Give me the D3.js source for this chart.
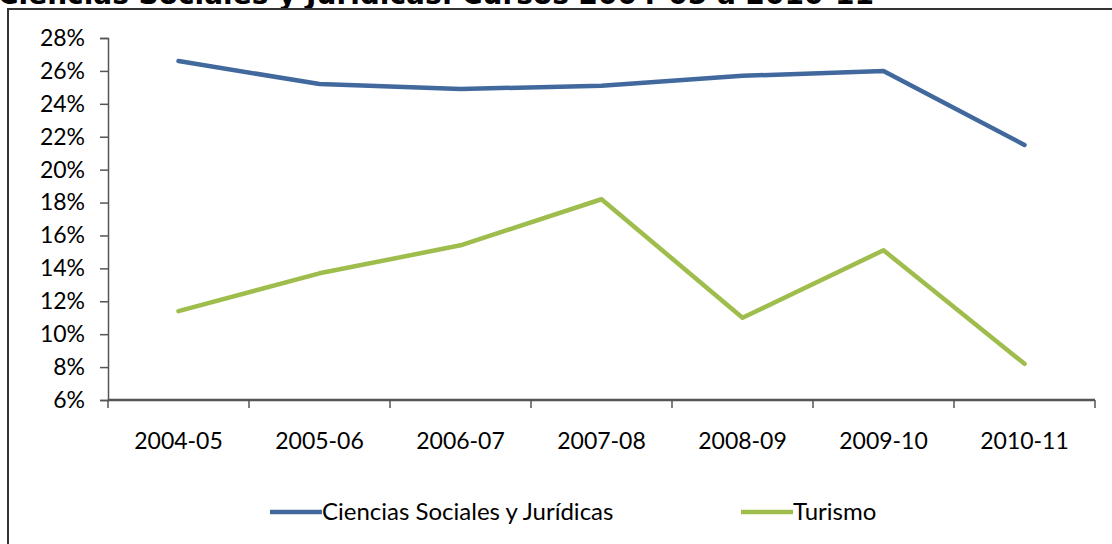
<!DOCTYPE html>
<html>
<head>
<meta charset="utf-8">
<script src="https://cdn.jsdelivr.net/npm/d3@7"></script>
<style>
  body { margin: 0; background: #fff; }
  svg { display: block; }
  .tick text { font-family: Lato, "Open Sans", sans-serif; font-size: 23px; fill: #000; }
  .legendText { font-family: Lato, "Open Sans", sans-serif; font-size: 24px; fill: #000; }
</style>
</head>
<body>
<div class="svg_area"></div>
<script>
// Chart data
var cursos = ["2004-05", "2005-06", "2006-07", "2007-08", "2008-09", "2009-10", "2010-11"];
var ciencias = [26.6, 25.2, 24.9, 25.1, 25.7, 26.0, 21.5];
var turismo = [11.4, 13.7, 15.4, 18.2, 11.0, 15.1, 8.2];
var yTicks = [6, 8, 10, 12, 14, 16, 18, 20, 22, 24, 26, 28];

var svgWidth = 1112;
var svgHeight = 544;

var margin = { top: 38, right: 17, bottom: 144, left: 108 };
var chartWidth = svgWidth - margin.left - margin.right;
var chartHeight = svgHeight - margin.top - margin.bottom;

var svg = d3.select(".svg_area")
  .append("svg")
  .attr("width", svgWidth)
  .attr("height", svgHeight);

// cut-off title at the very top
svg.append("text")
  .attr("x", -2)
  .attr("y", 4)
  .attr("font-family", "DejaVu Sans, sans-serif")
  .attr("font-weight", "bold")
  .attr("font-size", 28)
  .attr("fill", "#000")
  .text("Ciencias Sociales y Jurídicas. Cursos 2004-05 a 2010-11");

// chart frame
svg.append("rect")
  .attr("x", 8)
  .attr("y", 9)
  .attr("width", 1120)
  .attr("height", 560)
  .attr("fill", "none")
  .attr("stroke", "#333")
  .attr("stroke-width", 2);

var chartGroup = svg.append("g")
  .attr("transform", `translate(${margin.left}, ${margin.top})`);

var xBand = d3.scaleBand()
  .domain(cursos)
  .range([0, chartWidth]);

var yLinearScale = d3.scaleLinear()
  .domain([6, 28])
  .range([chartHeight, 0]);

// y axis
var leftAxis = d3.axisLeft(yLinearScale)
  .tickValues(yTicks)
  .tickSize(8)
  .tickPadding(15)
  .tickFormat(d => d + "%");

var yAxis = chartGroup.append("g").call(leftAxis);
yAxis.select(".domain").attr("stroke", "#555").attr("stroke-width", 1.5);
yAxis.selectAll(".tick line").attr("stroke", "#555").attr("stroke-width", 1.5);

// x axis: ticks on the band edges
var edges = cursos.map(c => xBand(c)).concat([chartWidth]);
var xg = chartGroup.append("g")
  .attr("transform", `translate(0, ${chartHeight})`);
xg.append("line")
  .attr("x1", 0).attr("x2", chartWidth)
  .attr("stroke", "#555").attr("stroke-width", 2.5);
xg.selectAll(".edge")
  .data(edges)
  .enter()
  .append("line")
  .attr("x1", d => d).attr("x2", d => d)
  .attr("y1", 0).attr("y2", 8)
  .attr("stroke", "#555").attr("stroke-width", 1.5);
xg.selectAll(".tick")
  .data(cursos)
  .enter()
  .append("g")
  .attr("class", "tick")
  .append("text")
  .attr("x", d => xBand(d) + xBand.bandwidth() / 2)
  .attr("y", 49)
  .attr("text-anchor", "middle")
  .text(d => d);

// lines
var series = [
  { name: "Ciencias Sociales y Jurídicas", values: ciencias, color: "#41699e" },
  { name: "Turismo", values: turismo, color: "#9fbd4c" }
];

var line = d3.line()
  .x((d, i) => xBand(cursos[i]) + xBand.bandwidth() / 2)
  .y(d => yLinearScale(d));

chartGroup.selectAll(".serie")
  .data(series)
  .enter()
  .append("path")
  .attr("d", d => line(d.values))
  .attr("fill", "none")
  .attr("stroke", d => d.color)
  .attr("stroke-width", 4.5)
  .attr("stroke-linejoin", "round")
  .attr("stroke-linecap", "round");

// legend
var legendX = [270, 741];
var legend = svg.selectAll(".legend")
  .data(series)
  .enter()
  .append("g")
  .attr("transform", (d, i) => `translate(${legendX[i]}, 512)`);

legend.append("line")
  .attr("x1", 0).attr("x2", 52)
  .attr("stroke", d => d.color)
  .attr("stroke-width", 4.5);

legend.append("text")
  .attr("class", "legendText")
  .attr("x", 52)
  .attr("dy", "0.35em")
  .text(d => d.name);
</script>
</body>
</html>
